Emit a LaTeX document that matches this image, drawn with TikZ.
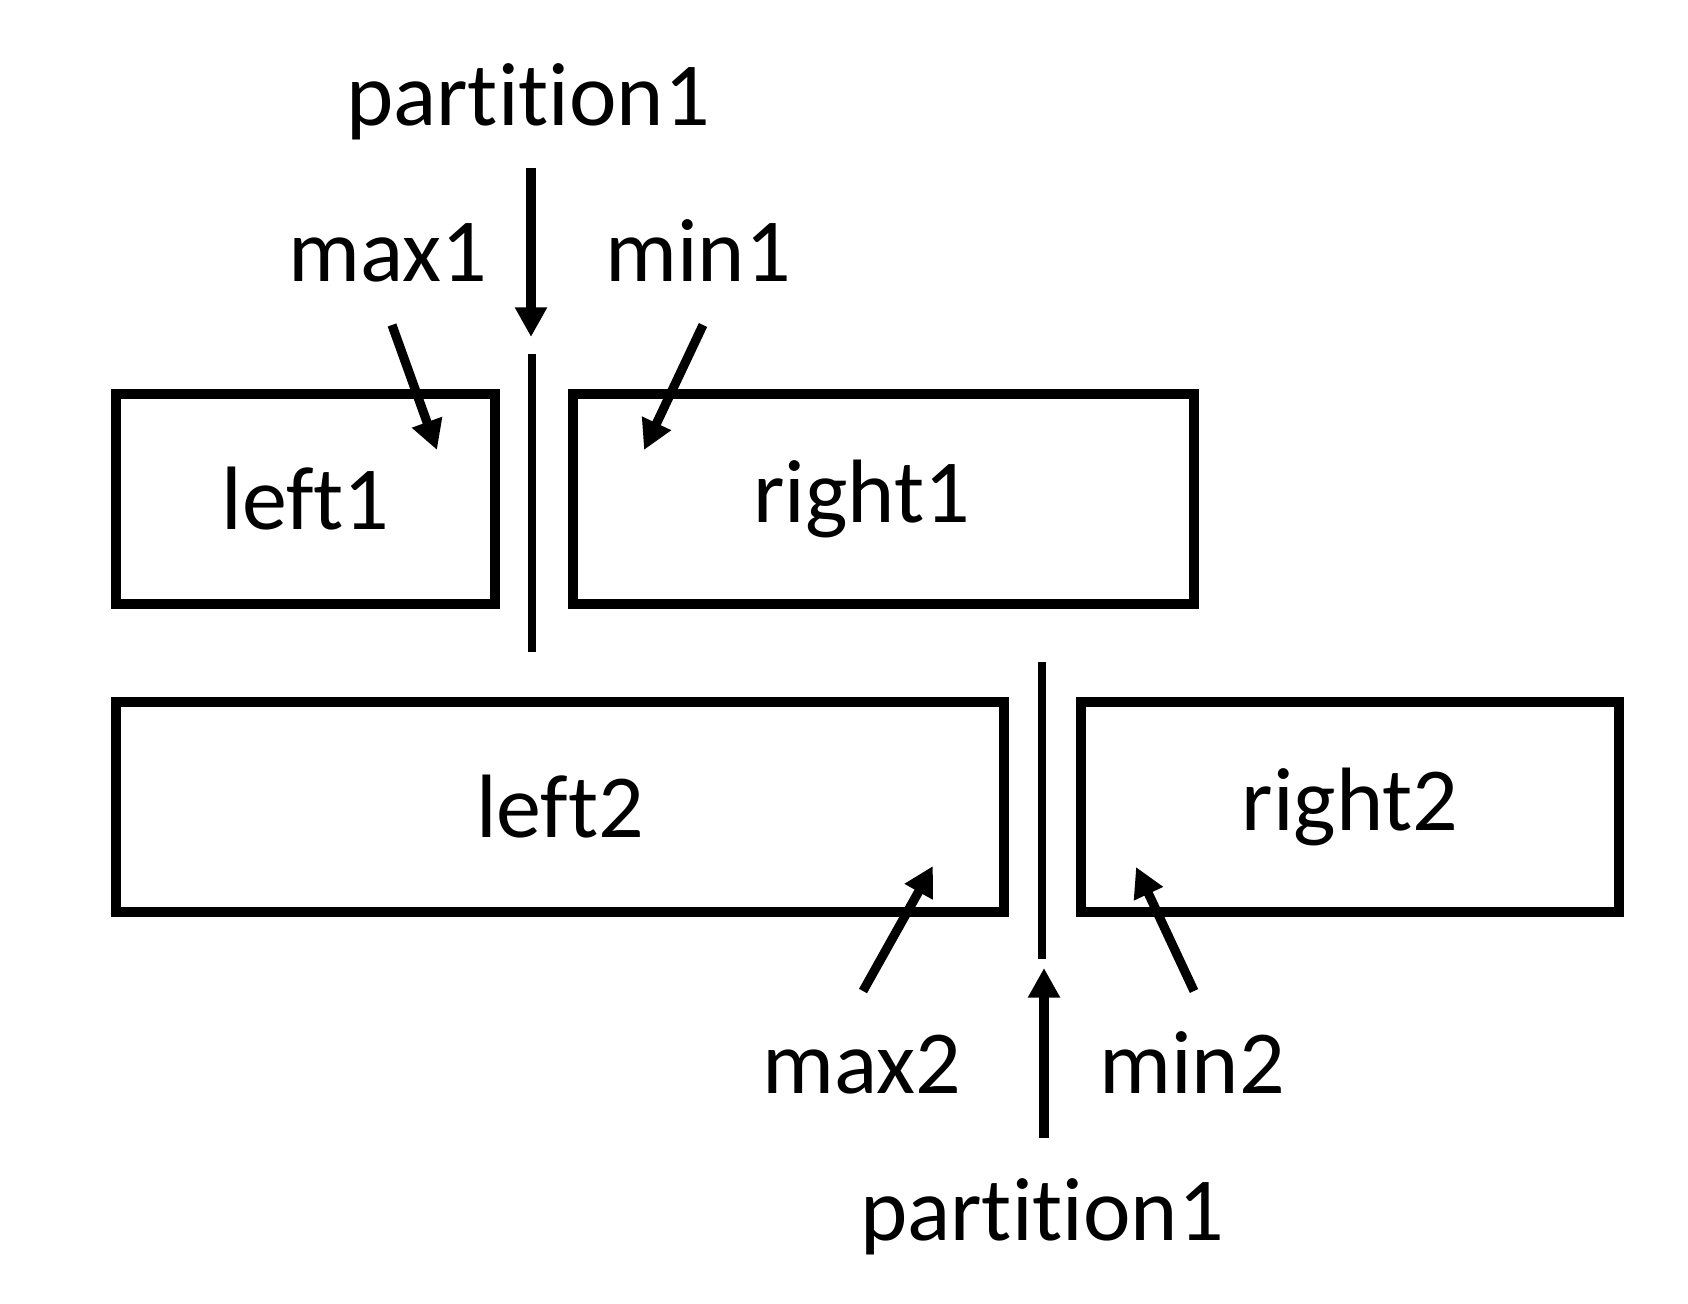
\documentclass[tikz,border=0pt]{standalone}
\usepackage{fontspec}
\setmainfont{Carlito}[Ligatures={NoCommon}]
\usepackage{tikz}
\usetikzlibrary{arrows.meta,positioning,calc}
\definecolor{ink}{HTML}{000000}
\newcommand{\bigtext}{\fontsize{25.6}{30}\selectfont}
\tikzset{
  partbox/.style={
    draw=ink, line width=2.85pt, rectangle,
    inner sep=0pt, minimum height=2.1cm,
    font=\bigtext
  },
  tag/.style={anchor=base, inner sep=0pt, font=\bigtext},
  pointer/.style={draw=ink, line width=2.6pt, -{Triangle[length=8.4pt,width=8.6pt]}},
  divider/.style={draw=ink, line width=2pt}
}
\begin{document}
\begin{tikzpicture}[x=0.01cm,y=-0.01cm]
  \useasboundingbox (0,0) rectangle (1688,1304);
  % upper split
  \node[partbox,minimum width=3.79cm] (left1) at (305.5,499) {left1};
  \node[partbox,minimum width=6.21cm,
        label={[font=\bigtext,xshift=-0.22cm]center:right1}] (right1) at (883.5,499) {};
  \node[tag] (ptop) at (528,126) {partition1};
  \node[tag] (max1) at (388,282) {max1};
  \node[tag] (min1) at (698,282) {min1};
  \coordinate (ptopS) at (531,168);
  \coordinate (ptopE) at (531,337);
  \coordinate (cut1a) at (532,354);
  \coordinate (cut1b) at (532,652);
  \coordinate (max1S) at (392,325);
  \coordinate (max1E) at (437,450);
  \coordinate (min1S) at (703,325);
  \coordinate (min1E) at (644,450);
  \draw[pointer] (ptopS) -- (ptopE);
  \draw[divider] (cut1a) -- (cut1b);
  \draw[pointer] (max1S) -- (max1E);
  \draw[pointer] (min1S) -- (min1E);
  % lower split
  \node[partbox,minimum width=8.88cm] (left2) at (560,807) {left2};
  \node[partbox,minimum width=5.38cm] (right2) at (1350,807) {right2};
  \node[tag] (max2) at (862,1093) {max2};
  \node[tag] (min2) at (1192,1093) {min2};
  \node[tag] (pbot) at (1042,1240) {partition1};
  \coordinate (pbotS) at (1044,1138);
  \coordinate (pbotE) at (1044,968);
  \coordinate (cut2a) at (1042,662);
  \coordinate (cut2b) at (1042,959);
  \coordinate (max2S) at (863,991);
  \coordinate (max2E) at (933,866);
  \coordinate (min2S) at (1194,991);
  \coordinate (min2E) at (1136,867);
  \draw[pointer] (pbotS) -- (pbotE);
  \draw[divider] (cut2a) -- (cut2b);
  \draw[pointer] (max2S) -- (max2E);
  \draw[pointer] (min2S) -- (min2E);
\end{tikzpicture}
\end{document}
